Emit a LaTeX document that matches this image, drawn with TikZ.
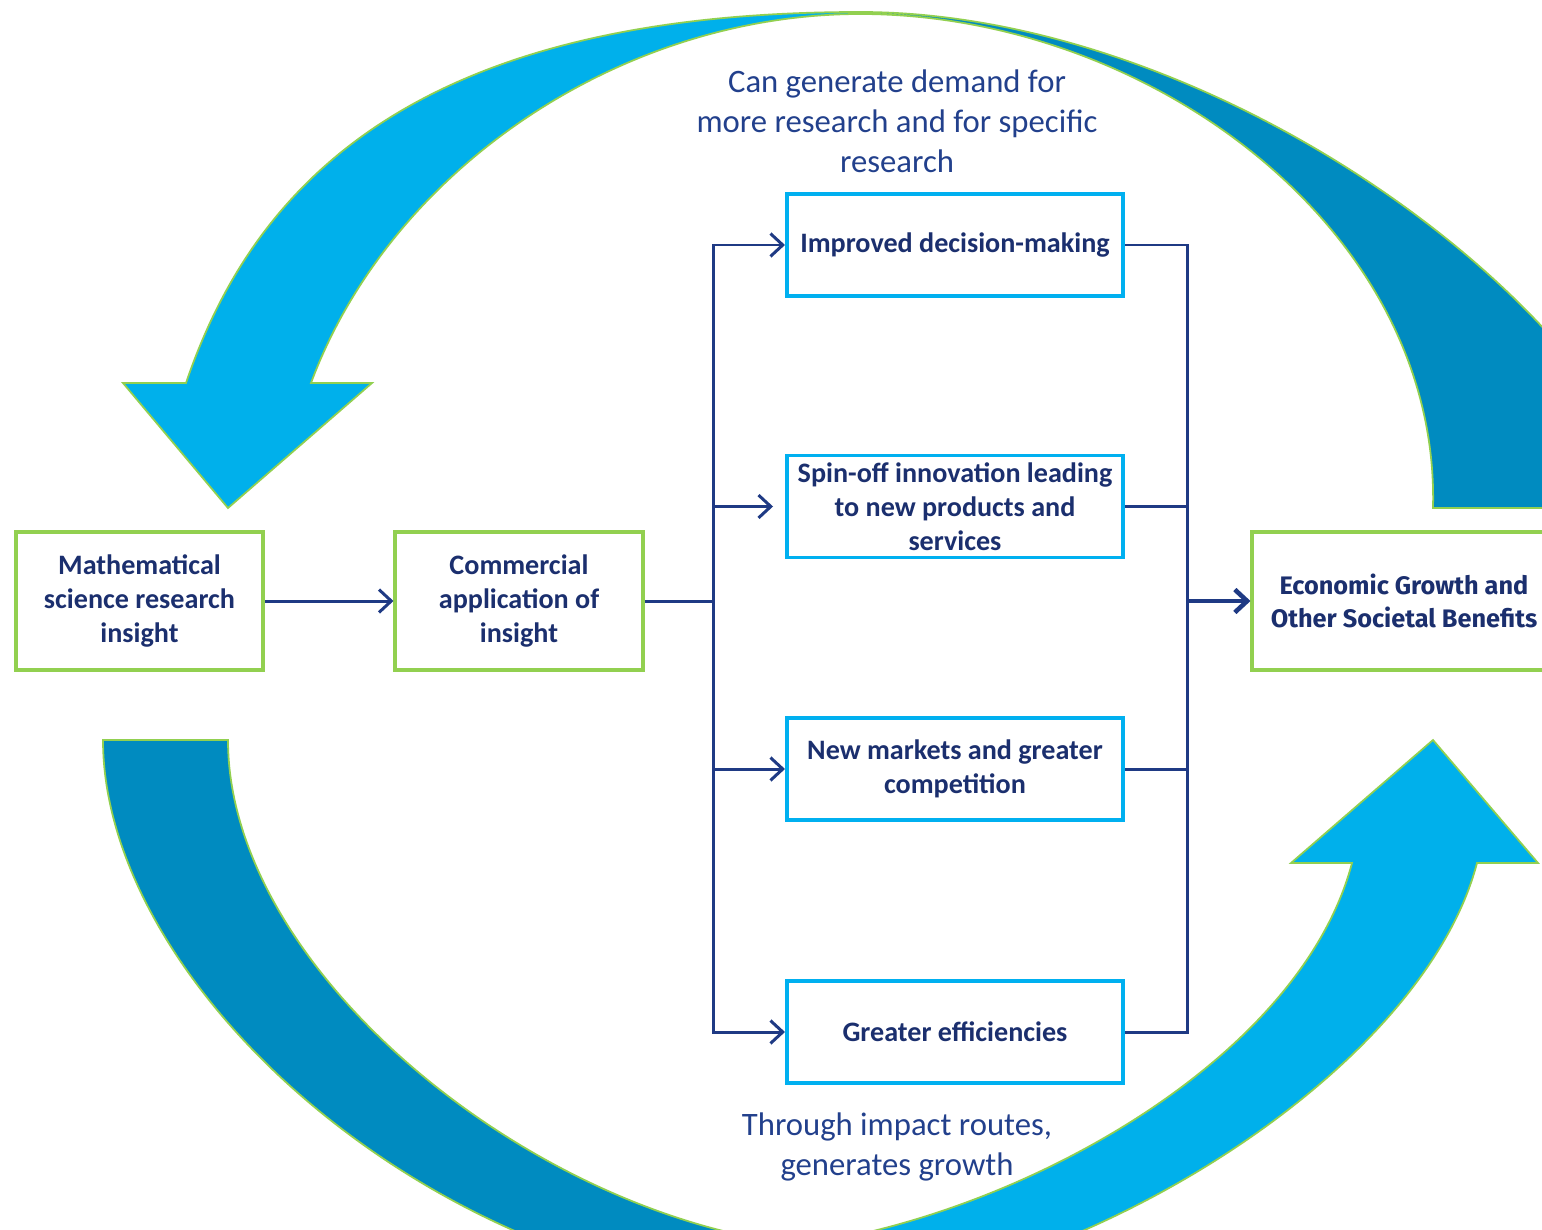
\documentclass[tikz,border=0pt]{standalone}
\usepackage{fontspec}
\setmainfont{Carlito}
\newfontfamily\heavyfont{Fira Sans}
\usepackage{tikz}
\usetikzlibrary{positioning, arrows.meta, calc}
\definecolor{skyblue}{HTML}{00B0EB}
\definecolor{deepblue}{HTML}{008BC0}
\definecolor{leafgreen}{HTML}{92D050}
\definecolor{boxblue}{HTML}{00B0F0}
\definecolor{inkblue}{HTML}{1F3A84}
\definecolor{textblue}{HTML}{1B2F6E}
\definecolor{capblue}{HTML}{22408C}

\tikzset{
  band/.style={draw=leafgreen, line width=0.5pt},
  greenbox/.style={draw=leafgreen, line width=1.1pt, fill=white, minimum width=2.47cm, minimum height=1.38cm,
    align=center, inner sep=1pt, text=textblue, font=\fontsize{8}{9.7}\selectfont\bfseries},
  routebox/.style={draw=boxblue, line width=1.1pt, fill=white, minimum width=3.36cm, minimum height=1.02cm,
    align=center, inner sep=1pt, text=textblue, font=\fontsize{8}{9.7}\selectfont\bfseries},
  route/.style={draw=inkblue, line width=0.85pt},
  caption/.style={align=center, text=capblue, font=\fontsize{9.3}{11.4}\selectfont},
  >={Straight Barb[length=3.5pt, width=6.5pt]}
}

\begin{document}
\begin{tikzpicture}[x=0.01cm, y=-0.01cm]
\useasboundingbox (0,0) rectangle (1542,1230);
\clip (0,0) rectangle (1542,1230);

% the four big circling arrows
\filldraw[fill=deepblue, band] (860,12) .. controls (1200,12) and (1580,280) .. (1660,508) -- (1433,508)
  .. controls (1440,230) and (1150,14) .. (860,14) -- cycle;
\filldraw[fill=skyblue, band] (860,12) .. controls (420,12) and (255,180) .. (186,383) -- (123,383) -- (228,508)
  -- (372,383) -- (311,383) .. controls (390,170) and (620,14) .. (860,14) -- cycle;
\filldraw[fill=deepblue, band] (103,740) -- (228,740) .. controls (228,970) and (530,1215) .. (800,1245)
  -- (800,1300) .. controls (420,1280) and (103,980) .. (103,740) -- cycle;
\filldraw[fill=skyblue, band] (800,1245) .. controls (1020,1215) and (1300,1060) .. (1352,863) -- (1291,863)
  -- (1433,740) -- (1538,863) -- (1477,863) .. controls (1420,1080) and (1060,1295) .. (800,1300) -- cycle;

% boxes
\node [greenbox] (research) at (139.5,601) {Mathematical\\science research\\insight};
\node [greenbox] (commercial) at (519,601) {Commercial\\application of\\insight};
\node [greenbox, minimum width=3.03cm, font=\heavyfont\fontsize{7.2}{9.4}\selectfont\bfseries] (growth) at (1404,601)
  {Economic Growth and\\Other Societal Benefits};

\node [routebox] (decision) at (955,245) {Improved decision-making};
\node [routebox] (spinoff) at (955,506.5) {Spin-off innovation leading\\to new products and\\services};
\node [routebox] (markets) at (955,769) {New markets and greater\\competition};
\node [routebox] (efficiency) at (955,1032) {Greater efficiencies};

\coordinate (split) at (713,601);
\coordinate (join) at (1187,601);

\draw [route, ->] (research) -- (commercial);
\draw [route] (commercial.east) -- (split);
\foreach \name/\gap in {decision/0, spinoff/3.4, markets/0, efficiency/0}
  \draw [route, ->, shorten >=\gap pt] (split) |- (\name.west);
\foreach \name in {decision, spinoff, markets, efficiency}
  \draw [route] (\name.east) -| (join);
\draw [route, line width=1.3pt, ->] (join) -- (growth.west);

% captions
\node [caption] (demand) at (897,121) {Can generate demand for\\more research and for specific\\research};
\node [caption] (routes) at (897,1147) {Through impact routes,\\generates growth};
\end{tikzpicture}
\end{document}
